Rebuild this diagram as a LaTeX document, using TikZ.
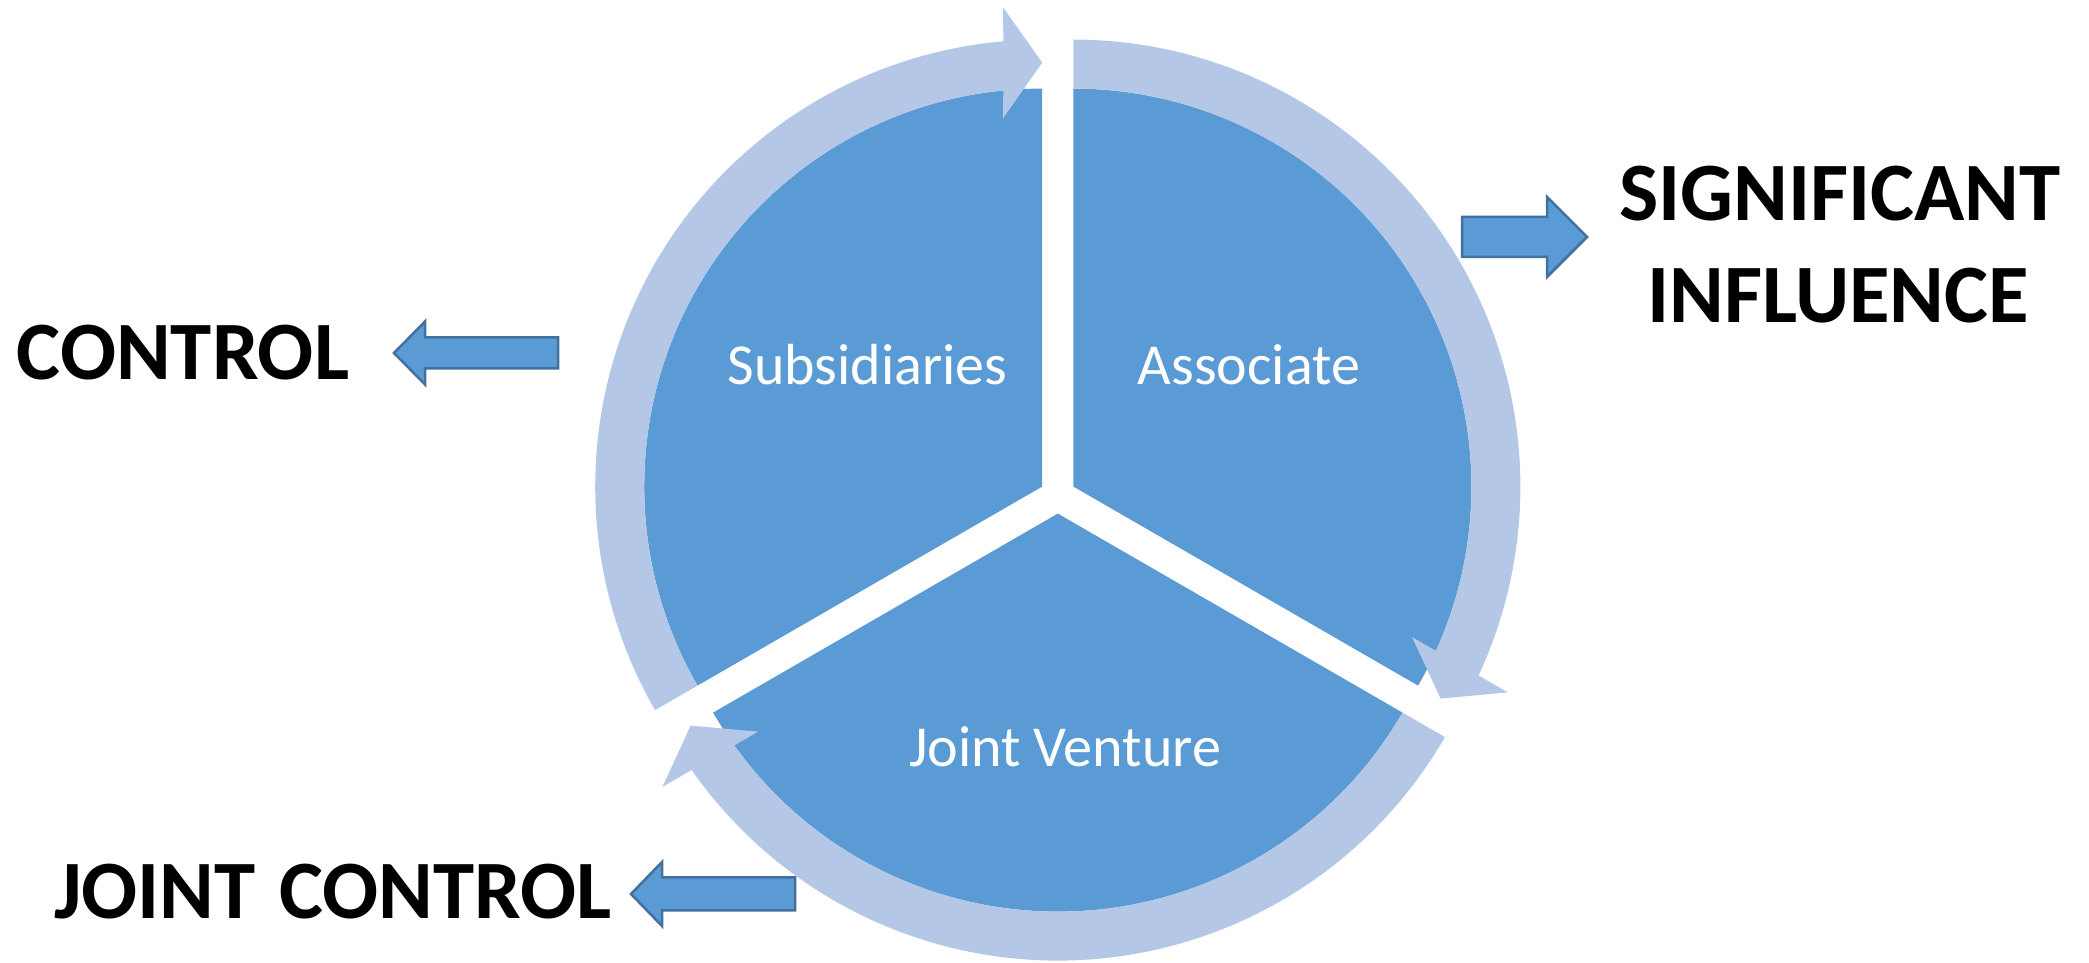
\documentclass[tikz,border=0pt]{standalone}
\usepackage{fontspec}
\setmainfont{Carlito}
\definecolor{slice}{HTML}{5B9BD5}
\definecolor{ring}{HTML}{B4C7E7}
\definecolor{arrowline}{HTML}{41719C}
\begin{document}
\begin{tikzpicture}[x=1pt,y=1pt,
  slicefill/.style={fill=slice},
  ringfill/.style={fill=ring},
  blockarrow/.style={fill=slice, draw=arrowline, line width=2.5pt, line join=miter},
  segtext/.style={text=white, font=\fontsize{58}{70}\selectfont, inner sep=0pt, anchor=base},
  bigtext/.style={font=\fontsize{83}{100}\selectfont\bfseries, inner sep=0pt, anchor=base}]
\useasboundingbox (0,0) rectangle (2089,963);
\coordinate (C) at (1057.8,467.4);
% three exploded pie segments
\foreach \rot in {0,-120,120}{
  \begin{scope}[shift={(C)}, rotate=\rot, shift={(150:18)}]
    \fill[slicefill] (0,0) -- (90:398) arc[start angle=90, end angle=210, radius=398] -- cycle;
  \end{scope}
}
% curved arrows running clockwise around each segment
\foreach \rot in {0,-120,120}{
  \begin{scope}[shift={(C)}, rotate=\rot, shift={(150:18)}]
    \fill[ringfill] (210:447) arc[start angle=210, end angle=95.0, radius=447]
      -- (-39,479) -- (0,424) -- (-39,368.5) -- (95.62:398)
      arc[start angle=95.62, end angle=210, radius=398] -- cycle;
  \end{scope}
}
% segment captions
\node[segtext] (sub) at (867.5,578) {Subsidiaries};
\node[segtext] (assoc) at (1249,578) {Associate};
\node[segtext] (jv) at (1065,196) {Joint Venture};
% outer labels
\node[bigtext] (ctrl) at (183,583) {CONTROL};
\node[bigtext] (sig) at (1840,742) {SIGNIFICANT};
\node[bigtext] (infl) at (1838,640.5) {INFLUENCE};
\node[bigtext] (jc) at (333,44) {JOINT\hspace{0.06em} CONTROL};
% block arrows pointing to the labels
\draw[blockarrow] (394,610) -- (425,641.5) -- (425,625.5) -- (558,625.5)
  -- (558,594.5) -- (425,594.5) -- (425,578.5) -- cycle;
\draw[blockarrow] (1587,726) -- (1547,766) -- (1547,746) -- (1462,746)
  -- (1462,706) -- (1547,706) -- (1547,686) -- cycle;
\draw[blockarrow] (631,69) -- (662,101) -- (662,85.5) -- (795,85.5)
  -- (795,52.5) -- (662,52.5) -- (662,37) -- cycle;
\end{tikzpicture}
\end{document}
